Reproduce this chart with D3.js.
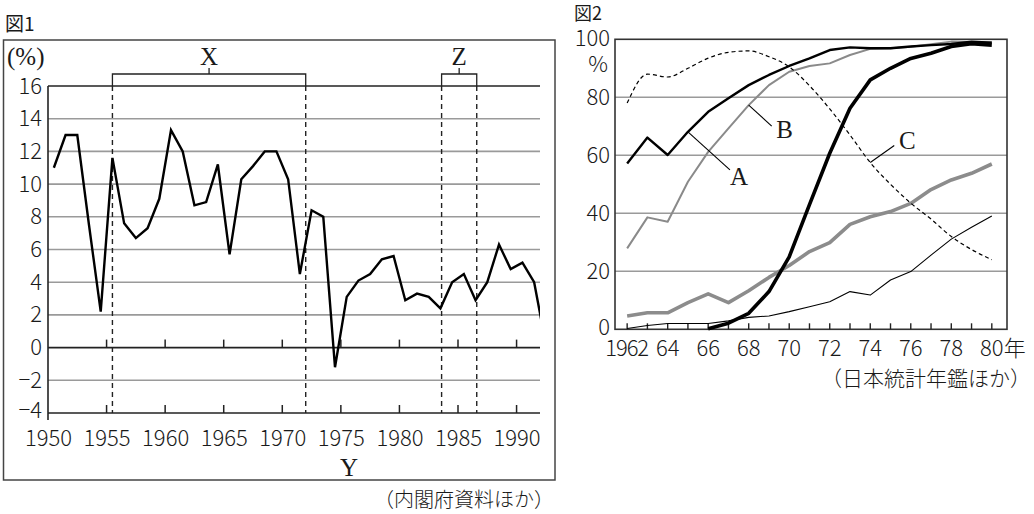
<!DOCTYPE html>
<html><head><meta charset="utf-8">
<script src="https://cdn.jsdelivr.net/npm/d3@7"></script>
<style>
body{margin:0;background:#fff;}
svg{display:block;}
text{font-family:"Noto Sans CJK JP","Noto Sans",sans-serif;fill:#1a1a1a;}
.num{font-weight:300;}
.serif{font-family:"Liberation Serif","DejaVu Serif",serif;}
</style></head><body>
<svg id="c" width="1034" height="514"></svg>
<script>
// ---------- 図1 data ----------
const years1 = [1950,1951,1952,1953,1954,1955,1956,1957,1958,1959,1960,1961,1962,1963,1964,1965,1966,1967,1968,1969,1970,1971,1972,1973,1974,1975,1976,1977,1978,1979,1980,1981,1982,1983,1984,1985,1986,1987,1988,1989,1990,1991,1992];
const growth = [11.0,13.0,13.0,7.5,2.2,11.6,7.6,6.7,7.3,9.1,13.3,12.0,8.7,8.9,11.2,5.7,10.3,11.1,12.0,12.0,10.3,4.5,8.4,8.0,-1.2,3.1,4.1,4.5,5.4,5.6,2.9,3.3,3.1,2.4,4.0,4.5,2.9,4.0,6.3,4.8,5.2,4.0,0.2];
const y1Ticks = [-4,-2,0,2,4,6,8,10,12,14,16];
const x1Ticks = [1950,1955,1960,1965,1970,1975,1980,1985,1990];
const periodNames = ["X","Z"];
const periodFrom = [1955.5,1983.6];
const periodTo = [1972.0,1986.6];

// ---------- 図2 data ----------
const years2 = [1962,1963,1964,1965,1966,1967,1968,1969,1970,1971,1972,1973,1974,1975,1976,1977,1978,1979,1980];
const seriesBW = [78,88,87,90,93.5,95.5,96,94,90.5,84,76,67,57.5,50,43.5,38,32,27.5,24];
const seriesA = [57.2,66.1,60.1,68.1,75.0,79.7,84.2,87.7,90.8,93.4,96.3,97.2,96.9,96.9,97.5,98.0,98.4,99.2,98.8];
const seriesB = [27.9,38.6,37.1,50.9,61.2,69.3,77.3,84.2,88.8,90.8,91.7,94.6,96.7,96.9,97.4,98.3,99.2,99.1,99.0];
const seriesColor = [null,null,null,null,0.2,2.1,5.5,13.0,25.0,43.0,60.7,76.2,86.0,90.0,93.4,95.2,97.5,98.5,98.0];
const seriesCar = [4.6,5.7,5.7,9.2,12.2,9.2,13.3,17.9,22.0,26.8,29.9,36.2,38.8,40.6,43.4,48.2,51.5,53.8,57.0];
const seriesAir = [0.3,1.3,2.0,2.0,2.0,2.9,4.1,4.6,6.1,7.8,9.5,13.0,11.8,17.0,19.9,25.6,31.1,35.2,39.1];
const y2Ticks = [0,20,40,60,80,100];
const x2Labels = ["1962","64","66","68","70","72","74","76","78","80"];
const x2LabelYears = [1962,1964,1966,1968,1970,1972,1974,1976,1978,1980];

const svg = d3.select("#c");
const GRID = "#9a9a9a", DARK = "#222";

// ================= 図1 =================
svg.append("text").attr("x",5).attr("y",31).style("font-size","19px").text("図1");
svg.append("rect").attr("x",3.5).attr("y",40).attr("width",551.5).attr("height",440)
  .attr("fill","none").attr("stroke","#444").attr("stroke-width",1.5);

const x1 = d3.scaleLinear().domain([1950,1992]).range([48,540]);
const y1 = d3.scaleLinear().domain([-4,16]).range([413,86]);
const g1 = svg.append("g");

g1.selectAll("line.grid").data(y1Ticks).join("line")
  .attr("x1",x1(1950)).attr("x2",x1(1992))
  .attr("y1",d=>y1(d)).attr("y2",d=>y1(d))
  .attr("stroke",d=>(d===16||d===0||d===-4)?DARK:GRID)
  .attr("stroke-width",1.6);

const ax1 = g1.append("g").attr("transform",`translate(${x1(1950)},0)`)
  .call(d3.axisLeft(y1).tickValues(y1Ticks).tickSize(0).tickPadding(6)
        .tickFormat(d=>d<0?"−"+Math.abs(d):d));
ax1.select(".domain").remove();
ax1.selectAll("text").attr("class","num").style("font-size","22px").attr("fill","#1a1a1a").style("font-family",null);
ax1.selectAll(".tick").filter(d=>d===-4).select("text").attr("dy","0.2em");
g1.append("line").attr("x1",x1(1950)).attr("x2",x1(1950)).attr("y1",y1(16)).attr("y2",y1(-4)+7)
  .attr("stroke",DARK).attr("stroke-width",1.6);

[0,-4].forEach(v=>{
  g1.selectAll(null).data(x1Ticks.filter(d=>d>1950)).join("line")
    .attr("x1",d=>x1(d)).attr("x2",d=>x1(d)).attr("y1",y1(v)).attr("y2",y1(v)-8)
    .attr("stroke",DARK).attr("stroke-width",1.5);
});
const axb = g1.append("g").attr("transform",`translate(0,${y1(-4)})`)
  .call(d3.axisBottom(x1).tickValues(x1Ticks).tickSize(0).tickPadding(17).tickFormat(d3.format("d")));
axb.select(".domain").remove();
axb.selectAll("text").attr("class","num").style("font-size","22px").attr("fill","#1a1a1a").style("font-family",null);

svg.append("text").attr("x",7).attr("y",65).style("font-size","25px").attr("class","serif").text("(%)");
svg.append("text").attr("x",x1(1975.7)).attr("y",476).attr("text-anchor","middle").attr("class","serif")
  .style("font-size","25px").text("Y");

periodNames.forEach((n,i)=>{
  const a = x1(periodFrom[i]), b = x1(periodTo[i]), m=(a+b)/2;
  [a,b].forEach(xx=>{
    g1.append("line").attr("x1",xx).attr("x2",xx).attr("y1",y1(16)).attr("y2",y1(-4))
      .attr("stroke",DARK).attr("stroke-width",1.4).attr("stroke-dasharray","5,4");
  });
  g1.append("path").attr("d",`M${a},${y1(16)}V${y1(16)-12}H${b}V${y1(16)}M${m},${y1(16)-12}V${y1(16)-18}`)
    .attr("fill","none").attr("stroke",DARK).attr("stroke-width",1.3);
  g1.append("text").attr("x",m).attr("y",y1(16)-21).attr("text-anchor","middle").attr("class","serif")
    .style("font-size","25px").text(n);
});

svg.append("clipPath").attr("id","clip1").append("rect")
  .attr("x",x1(1950)).attr("y",0).attr("width",x1(1992)-x1(1950)).attr("height",500);
g1.append("path").datum(years1.map((yr,i)=>[yr+0.5,growth[i]]))
  .attr("clip-path","url(#clip1)")
  .attr("fill","none").attr("stroke","#000").attr("stroke-width",2.4).attr("stroke-linejoin","miter")
  .attr("d",d3.line().x(d=>x1(d[0])).y(d=>y1(d[1])));

svg.append("text").attr("x",554).attr("y",507).attr("text-anchor","end").style("font-size","20px")
  .attr("class","num").text("（内閣府資料ほか）");

// ================= 図2 =================
svg.append("text").attr("x",574).attr("y",20).style("font-size","18px").text("図2");
const x2 = d3.scaleLinear().domain([1961.4,1980.75]).range([615,1007]);
const y2 = d3.scaleLinear().domain([0,100]).range([329.3,39.3]);
const g2 = svg.append("g");

g2.selectAll("line.grid").data(y2Ticks.filter(d=>d>0&&d<100)).join("line")
  .attr("x1",x2.range()[0]).attr("x2",x2.range()[1])
  .attr("y1",d=>y2(d)).attr("y2",d=>y2(d)).attr("stroke",GRID).attr("stroke-width",1.6);
g2.append("rect").attr("x",x2.range()[0]).attr("y",y2(100)).attr("width",x2.range()[1]-x2.range()[0])
  .attr("height",y2(0)-y2(100)).attr("fill","none").attr("stroke","#333").attr("stroke-width",1.6);

const ay2 = g2.append("g").attr("transform",`translate(${x2.range()[0]},0)`)
  .call(d3.axisLeft(y2).tickValues(y2Ticks).tickSize(0).tickPadding(5));
ay2.select(".domain").remove();
ay2.selectAll("text").attr("class","num").style("font-size","22px").attr("fill","#1a1a1a").style("font-family",null);
ay2.selectAll(".tick").filter(d=>d===100).select("text").attr("dy","0.28em");
ay2.selectAll(".tick").filter(d=>d===0).select("text").attr("dy","0.22em");
g2.append("text").attr("x",598).attr("y",72).attr("class","num").attr("text-anchor","middle").style("font-size","22px").text("%");

g2.selectAll(null).data(years2).join("line")
  .attr("x1",d=>x2(d)).attr("x2",d=>x2(d)).attr("y1",y2(0)).attr("y2",y2(0)-6)
  .attr("stroke",DARK).attr("stroke-width",1.4);
g2.selectAll("text.xl").data(x2LabelYears).join("text").attr("class","xl num")
  .attr("x",d=>x2(d)).attr("y",356).attr("text-anchor","middle").style("font-size","22px")
  .attr("textLength",(d,i)=>i===0?44:null)
  .text((d,i)=>x2Labels[i]);
g2.append("text").attr("x",x2(1980)+12).attr("y",356).attr("class","num").style("font-size","22px").text("年");
svg.append("text").attr("x",1031).attr("y",386).attr("text-anchor","end").style("font-size","21px")
  .attr("class","num").text("（日本統計年鑑ほか）");

const line2 = d3.line().defined(d=>d[1]!==null).x(d=>x2(d[0])).y(d=>y2(d[1]));
const zip = arr => years2.map((yr,i)=>[yr,arr[i]]);
const styles = [
  {data:seriesAir, stroke:"#000", w:1.1},
  {data:seriesCar, stroke:"#8c8c8c", w:3.6},
  {data:seriesB, stroke:"#8a8a8a", w:2.0},
  {data:seriesBW, stroke:"#000", w:1.2, dash:"4,3", curve:true},
  {data:seriesA, stroke:"#000", w:2.4},
  {data:seriesColor, stroke:"#000", w:3.6},
];
styles.forEach(s=>{
  const ln = s.curve ? d3.line().x(d=>x2(d[0])).y(d=>y2(d[1])).curve(d3.curveMonotoneX) : line2;
  g2.append("path").datum(zip(s.data)).attr("fill","none").attr("stroke",s.stroke)
    .attr("stroke-width",s.w).attr("stroke-dasharray",s.dash||null).attr("stroke-linejoin","round")
    .attr("d",ln);
});

const labels = [
  {t:"A", yr:1965, v:seriesA[3], dx:42, dy:38, tx:51, ty:53},
  {t:"B", yr:1968, v:seriesB[6], dx:23, dy:21, tx:36, ty:33},
  {t:"C", yr:1974, v:seriesBW[12], dx:24, dy:-17, tx:37, ty:-14},
];
labels.forEach(l=>{
  const px=x2(l.yr), py=y2(l.v);
  g2.append("line").attr("x1",px).attr("y1",py).attr("x2",px+l.dx).attr("y2",py+l.dy)
    .attr("stroke","#000").attr("stroke-width",1.1);
  g2.append("text").attr("x",px+l.tx).attr("y",py+l.ty).attr("class","serif")
    .attr("text-anchor","middle").style("font-size","25px").text(l.t);
});
</script></body></html>
